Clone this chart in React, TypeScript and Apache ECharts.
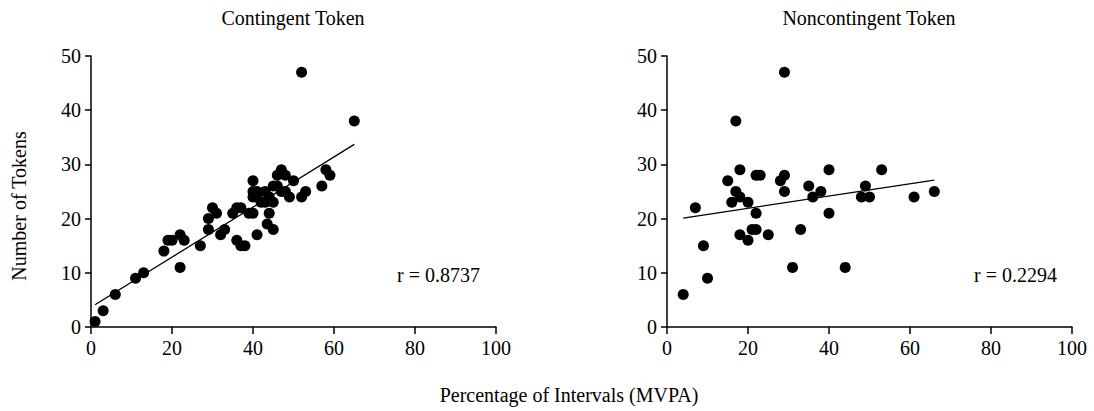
import React, { useEffect, useRef } from "react";
import * as echarts from "echarts";

const contingentX = [1, 3, 6, 11, 13, 18, 19, 20, 22, 23, 22, 27, 29, 29, 30, 31, 32, 33, 35, 36, 37, 36, 37, 38, 39, 40, 40, 40, 40, 41, 41, 41, 42, 43, 43, 44, 44, 43.5, 45, 45, 46, 45, 47, 46, 48, 50, 48, 49, 47, 52, 53, 52, 65, 58, 59, 57];
const contingentY = [1, 3, 6, 9, 10, 14, 16, 16, 17, 16, 11, 15, 20, 18, 22, 21, 17, 18, 21, 22, 22, 16, 15, 15, 21, 21, 27, 25, 24, 25, 24, 17, 23, 25, 23, 24, 21, 19, 18, 26, 26, 23, 29, 28, 28, 27, 25, 24, 25, 24, 25, 47, 38, 29, 28, 26];

const noncontingentX = [4, 7, 9, 10, 15, 16, 17, 17, 18, 18, 18, 20, 20, 21, 22, 22, 23, 22, 25, 28, 29, 29, 29, 31, 33, 35, 36, 38, 40, 40, 44, 48, 49, 50, 53, 61, 66];
const noncontingentY = [6, 22, 15, 9, 27, 23, 38, 25, 29, 24, 17, 23, 16, 18, 18, 28, 28, 21, 17, 27, 47, 28, 25, 11, 18, 26, 24, 25, 29, 21, 11, 24, 26, 24, 29, 24, 25];

const fitContingent = [[1, 4.1], [65, 33.7]];
const fitNoncontingent = [[4, 20.1], [66, 27.1]];

const panelTitles = ["Contingent Token", "Noncontingent Token"];
const rLabels = ["r = 0.8737", "r = 0.2294"];
const xName = "Percentage of Intervals (MVPA)";
const yName = "Number of Tokens";

const FONT = "'Liberation Serif', 'Times New Roman', serif";

export default function App() {
  const ref = useRef<HTMLDivElement>(null);
  useEffect(() => {
    if (!ref.current) return;
    const chart = echarts.init(ref.current, null, { renderer: "svg" });
    const pts = (xs: number[], ys: number[]) => xs.map((x, i) => [x, ys[i]]);
    const mkX = (gi: number) => ({
      type: "value",
      gridIndex: gi,
      min: 0,
      max: 100,
      interval: 20,
      axisLine: { show: true, lineStyle: { color: "#000", width: 1.5 } },
      axisTick: { show: true, length: 7, lineStyle: { color: "#000", width: 1.5 } },
      axisLabel: { color: "#000", fontSize: 20, fontFamily: FONT, margin: 11 },
      splitLine: { show: false },
    });
    const mkY = (gi: number) => ({
      type: "value",
      gridIndex: gi,
      min: 0,
      max: 50,
      interval: 10,
      axisLine: { show: true, lineStyle: { color: "#000", width: 1.5 } },
      axisTick: { show: true, length: 6, lineStyle: { color: "#000", width: 1.5 } },
      axisLabel: { color: "#000", fontSize: 20, fontFamily: FONT, margin: 10 },
      splitLine: { show: false },
    });
    const textStyle = (s: any) => ({ fill: "#000", fontSize: 20, fontFamily: FONT, ...s });
    const dot = { color: "#000", opacity: 1 };
    chart.setOption({
      animation: false,
      backgroundColor: "#fff",
      grid: [
        { left: 91, top: 56, width: 405, height: 271 },
        { left: 667, top: 56, width: 405, height: 271 },
      ],
      xAxis: [mkX(0), mkX(1)],
      yAxis: [mkY(0), mkY(1)],
      series: [
        {
          type: "scatter",
          xAxisIndex: 0,
          yAxisIndex: 0,
          data: pts(contingentX, contingentY),
          symbolSize: 11,
          itemStyle: dot,
        },
        {
          type: "line",
          xAxisIndex: 0,
          yAxisIndex: 0,
          data: fitContingent,
          symbol: "none",
          lineStyle: { color: "#000", width: 1.3 },
        },
        {
          type: "scatter",
          xAxisIndex: 1,
          yAxisIndex: 1,
          data: pts(noncontingentX, noncontingentY),
          symbolSize: 11,
          itemStyle: dot,
        },
        {
          type: "line",
          xAxisIndex: 1,
          yAxisIndex: 1,
          data: fitNoncontingent,
          symbol: "none",
          lineStyle: { color: "#000", width: 1.3 },
        },
      ],
      graphic: [
        { type: "text", x: 293, y: 18, style: textStyle({ text: panelTitles[0], align: "center", verticalAlign: "middle" }) },
        { type: "text", x: 869, y: 18, style: textStyle({ text: panelTitles[1], align: "center", verticalAlign: "middle" }) },
        { type: "text", x: 397, y: 275, style: textStyle({ text: rLabels[0], align: "left", verticalAlign: "middle" }) },
        { type: "text", x: 974, y: 275, style: textStyle({ text: rLabels[1], align: "left", verticalAlign: "middle" }) },
        { type: "text", x: 569, y: 395, style: textStyle({ text: xName, align: "center", verticalAlign: "middle" }) },
        { type: "text", x: 19, y: 206, rotation: Math.PI / 2, style: textStyle({ text: yName, align: "center", verticalAlign: "middle" }) },
      ],
    });
    return () => chart.dispose();
  }, []);
  return (
    <div
      ref={ref}
      style={{ position: "fixed", left: 0, top: 0, width: 1094, height: 411, background: "#fff" }}
    />
  );
}
